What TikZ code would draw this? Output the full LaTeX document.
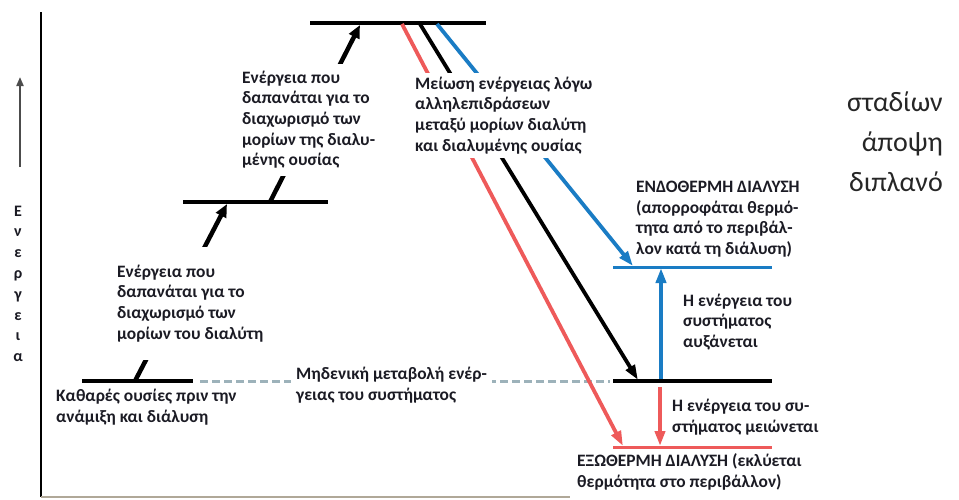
\documentclass[tikz,border=0pt]{standalone}
\usepackage{fontspec}
\setmainfont{Carlito}
\usetikzlibrary{arrows.meta}
\definecolor{txt}{HTML}{1B1B24}
\definecolor{myred}{HTML}{EE5A5A}
\definecolor{myblue}{HTML}{1A7CC4}
\definecolor{dashc}{HTML}{9DB2BA}
\definecolor{axisgrey}{HTML}{B0A898}
\begin{document}
\begin{tikzpicture}[x=1pt,y=-1pt,
  txtn/.style={font=\bfseries\fontsize{17.4}{20.7}\selectfont, text=txt, align=left, anchor=base west, inner sep=0pt},
  blackarrow/.style={line width=4.5pt, -{Triangle[length=13pt,width=11pt]}},
  redline/.style={myred, line width=3.8pt, -{Triangle[length=15pt,width=10pt]}},
  blueline/.style={myblue, line width=3.8pt, -{Triangle[length=15pt,width=10pt]}},
  kline/.style={black, line width=3.8pt, -{Triangle[length=15pt,width=10pt]}},
  lvl/.style={line width=3.5pt},
  clvl/.style={line width=3pt}]
\useasboundingbox (0,0) rectangle (959,499);
% axes
\coordinate (axtop) at (41,12);
\coordinate (axorig) at (41,497);
\coordinate (axend) at (570,497);
\draw[line width=2.5pt] (axtop) -- (axorig);
\draw[axisgrey, line width=2pt] (axorig) -- (axend);
\coordinate (ea1) at (20,167);
\coordinate (ea2) at (20,77);
\draw[line width=2pt, draw=black!70, -{Triangle[length=9pt,width=7pt]}] (ea1) -- (ea2);
% levels
\coordinate (L0a) at (82,381);  \coordinate (L0b) at (193,381);
\coordinate (L1a) at (183,202); \coordinate (L1b) at (328,202);
\coordinate (L2a) at (310,23);  \coordinate (L2b) at (486,23);
\coordinate (Lka) at (613,381); \coordinate (Lkb) at (772,381);
\coordinate (Lua) at (613,267); \coordinate (Lub) at (772,267);
\coordinate (Lra) at (613,447); \coordinate (Lrb) at (772,447);
\draw[lvl] (L0a) -- (L0b);
\draw[lvl] (L1a) -- (L1b);
\draw[lvl] (L2a) -- (L2b);
\draw[lvl] (Lka) -- (Lkb);
\draw[clvl, myblue] (Lua) -- (Lub);
\draw[clvl, myred] (Lra) -- (Lrb);
\draw[dashc, line width=3pt, dash pattern=on 8pt off 4pt, shorten <=7pt, shorten >=3pt] (L0b) -- (Lka);
% arrows
\coordinate (a1s) at (135,381); \coordinate (a1e) at (227,204);
\coordinate (a2s) at (270,202); \coordinate (a2e) at (360,25);
\draw[blackarrow] (a1s) -- (a1e);
\draw[blackarrow] (a2s) -- (a2e);
\coordinate (r0) at (402,24); \coordinate (r1) at (623,446);
\coordinate (k0) at (420,24); \coordinate (k1) at (638,380);
\coordinate (b0) at (437,24); \coordinate (b1) at (633,266);
\draw[redline] (r0) -- (r1);
\draw[kline] (k0) -- (k1);
\draw[blueline] (b0) -- (b1);
\coordinate (vb0) at (661,379); \coordinate (vb1) at (661,268);
\coordinate (vr0) at (660,387); \coordinate (vr1) at (660,446);
\draw[blueline] (vb0) -- (vb1);
\draw[redline] (vr0) -- (vr1);
% texts (anchored at the baseline of the last line)
\node[txtn, fill=white, inner ysep=7pt] (t1) at (242,165.8) {Ενέργεια που\\δαπανάται για το\\διαχωρισμό των\\μορίων της διαλυ-\\μένης ουσίας};
\node[txtn, fill=white, inner ysep=18pt] (t2) at (117,339.1) {Ενέργεια που\\δαπανάται για το\\διαχωρισμό των\\μορίων του διαλύτη};
\node[txtn] (t3) at (56,422.5) {Καθαρές ουσίες πριν την\\ανάμιξη και διάλυση};
\node[txtn, fill=white, inner xsep=5pt, inner ysep=3pt] (t4) at (291,400.5) {Μηδενική μεταβολή ενέρ-\\γειας του συστήματος};
\node[txtn, fill=white, inner ysep=4pt, inner xsep=4pt] (t5) at (411,151.1) {Μείωση ενέργειας λόγω\\αλληλεπιδράσεων\\μεταξύ μορίων διαλύτη\\και διαλυμένης ουσίας};
\node[txtn] (t6) at (636,254.6) {ΕΝΔΟΘΕΡΜΗ ΔΙΑΛΥΣΗ\\(απορροφάται θερμό-\\τητα από το περιβάλ-\\λον κατά τη διάλυση)};
\node[txtn] (t7) at (683,347.4) {Η ενέργεια του\\συστήματος\\αυξάνεται};
\node[txtn] (t8) at (672,432.2) {Η ενέργεια του συ-\\στήματος μειώνεται};
\node[txtn] (t9) at (577,487.2) {ΕΞΩΘΕΡΜΗ ΔΙΑΛΥΣΗ (εκλύεται\\θερμότητα στο περιβάλλον)};
\node[font=\fontsize{28}{40}\selectfont, align=right, anchor=base east, inner sep=0pt, text=black!85] (t10) at (943,191.6) {σταδίων\\άποψη\\διπλανό};
\node[font=\bfseries\fontsize{16}{20.8}\selectfont, text=txt, align=center, anchor=base, inner sep=0pt] (ylab) at (18,361.6) {Ε\\ν\\ε\\ρ\\γ\\ε\\ι\\α};
\end{tikzpicture}
\end{document}
